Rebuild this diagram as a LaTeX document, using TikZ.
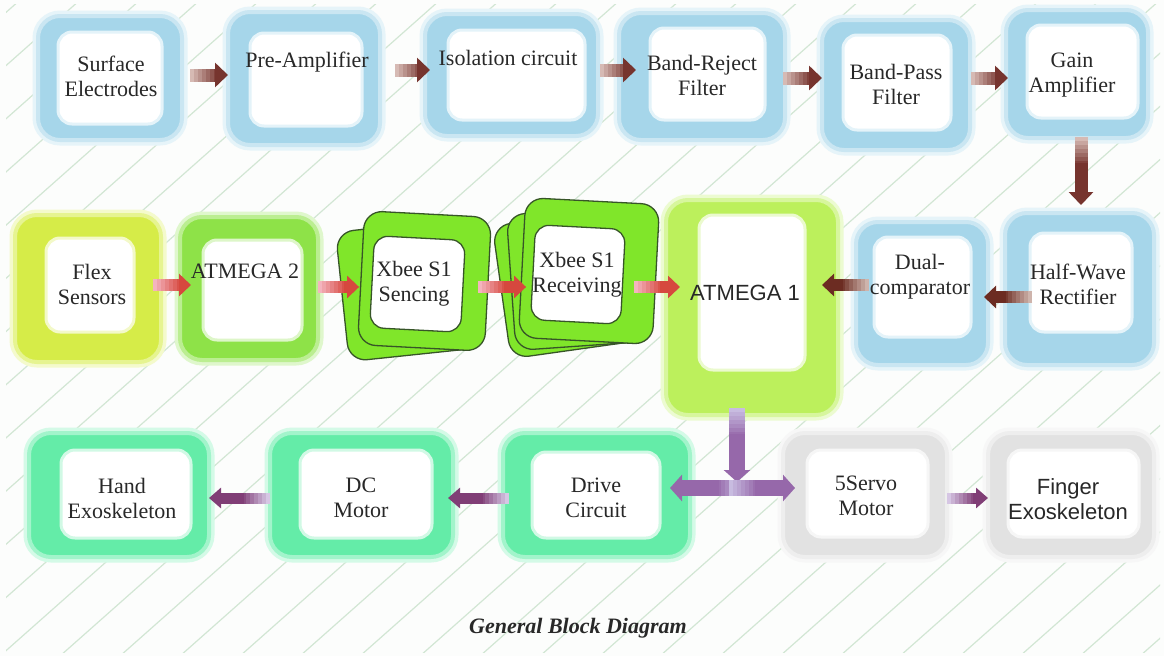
\documentclass[tikz,border=0pt]{standalone}
\usepackage{fontspec}
\setmainfont{Liberation Serif}
\newfontfamily\sansf{Liberation Sans}
\usetikzlibrary{arrows.meta,calc}
\definecolor{bgc}{RGB}{252,253,252}
\definecolor{hatchc}{RGB}{210,230,212}
\definecolor{cblue}{RGB}{166,214,234}
\definecolor{cflex}{RGB}{214,236,72}
\definecolor{catmb}{RGB}{142,226,72}
\definecolor{cxbee}{RGB}{128,230,42}
\definecolor{cxdark}{RGB}{55,85,40}
\definecolor{catma}{RGB}{188,240,92}
\definecolor{cteal}{RGB}{100,236,168}
\definecolor{cgray}{RGB}{226,226,226}
\definecolor{txtc}{RGB}{40,40,40}
\definecolor{BT}{RGB}{214,186,180}
\definecolor{BH}{RGB}{118,52,46}
\definecolor{RT}{RGB}{244,180,190}
\definecolor{RH}{RGB}{214,72,62}
\definecolor{PT}{RGB}{214,198,228}
\definecolor{PH}{RGB}{128,62,118}
\definecolor{TT}{RGB}{200,188,224}
\definecolor{TH}{RGB}{150,104,170}
\definecolor{DT}{RGB}{206,180,172}
\definecolor{DH}{RGB}{108,44,34}
\tikzset{
  obox/.style={fill=#1, rounded corners=22, inner sep=0, outer sep=0,
    draw=#1!60!white, line width=4,
    preaction={draw=#1!28!white, line width=11}},
  ibox/.style={fill=white, rounded corners=14, inner sep=0, outer sep=0,
    draw=#1!30!white, line width=3},
  xbox/.style={fill=cxbee, draw=cxdark, line width=1.3, rounded corners=18,
    inner sep=0, outer sep=0},
  xin/.style={fill=white, draw=cxdark, line width=1.3, rounded corners=14,
    inner sep=0, outer sep=0},
  txt/.style={font=\fontsize{22}{25}\selectfont, align=center, inner sep=0,
    text=txtc},
  stxt/.style={font=\sansf\fontsize{22}{25}\selectfont, align=center,
    inner sep=0, text=txtc},
  captxt/.style={font=\fontsize{22}{24}\selectfont\bfseries\itshape,
    inner sep=0, text=txtc},
  hatchl/.style={draw=hatchc, line width=1.2},
  Bline/.style={line width=13},
  Bhead/.style={draw=BH, line width=13, -{Triangle[length=13,width=24]}},
  Rline/.style={line width=12},
  Rhead/.style={draw=RH, line width=12, -{Triangle[length=12,width=22]}},
  Pline/.style={line width=11},
  Phead/.style={draw=PH, line width=11, -{Triangle[length=12,width=20]}},
  Tline/.style={line width=16},
  Thead/.style={draw=TH, line width=16, -{Triangle[length=12,width=26]}},
  Dline/.style={line width=12},
  Dhead/.style={draw=DH, line width=12, -{Triangle[length=12,width=22]}},
}
\newcommand\myobox[6]{\node[obox=#2, minimum width={#5-#3}, minimum height={#6-#4}] (#1) at ({(#3+#5)/2},{(#4+#6)/2}) {};}
\newcommand\myibox[6]{\node[ibox=#2, minimum width={#5-#3}, minimum height={#6-#4}] (#1) at ({(#3+#5)/2},{(#4+#6)/2}) {};}
\newcommand\conn[5]{%
  \foreach \k in {0,...,6}{%
    \pgfmathtruncatemacro\pp{\k*15}%
    \draw[#1line, draw=#1H!\pp!#1T, shorten <={#4+\k*4}, shorten >={#5+10}] #2 -- #3;}
  \draw[#1head, shorten <={#4+26}, shorten >=#5] #2 -- #3;}
\begin{document}
\begin{tikzpicture}[x=1pt,y=-1pt]
\useasboundingbox (0,0) rectangle (1164,656);
\fill[bgc] (0,0) rectangle (1164,656);
\begin{scope}
  \clip (6,4) rectangle (1160,652);
  \foreach \i in {-14,...,20} \draw[hatchl] (\i*60,656) -- ++(740,-656);
\end{scope}

% ---------- row 1 ----------
\myobox{se}{cblue}{38}{16}{182}{140}
\myibox{se-in}{cblue}{58}{32}{162}{124}
\myobox{pa}{cblue}{228}{12}{380}{145}
\myibox{pa-in}{cblue}{250}{33}{362}{126}
\myobox{ic}{cblue}{425}{14}{598}{136}
\myibox{ic-in}{cblue}{448}{30}{585}{120}
\myobox{br}{cblue}{619}{13}{785}{140}
\myibox{br-in}{cblue}{650}{28}{765}{120}
\myobox{bp}{cblue}{822}{20}{970}{150}
\myibox{bp-in}{cblue}{843}{35}{951}{130}
\myobox{ga}{cblue}{1006}{10}{1148}{138}
\myibox{ga-in}{cblue}{1027}{25}{1138}{118}

% ---------- row 2 ----------
\myobox{fs}{cflex}{15}{215}{161}{362}
\myibox{fs-in}{cflex}{46}{238}{134}{332}
\myobox{a2}{catmb}{180}{217}{318}{360}
\myibox{a2-in}{catmb}{203}{240}{302}{340}
\node[xbox, rotate=6, minimum width=132, minimum height=130] (xs-b) at (408,290) {};
\node[xbox, rotate=-3, minimum width=127, minimum height=134] (xs) at (424.5,281) {};
\node[xin, rotate=-3, minimum width=91, minimum height=92] (xs-in) at (417.5,284) {};
\node[xbox, rotate=8, minimum width=134, minimum height=134] (xr-b1) at (568,283) {};
\node[xbox, rotate=4, minimum width=134, minimum height=136] (xr-b2) at (578,278) {};
\node[xbox, rotate=-3, minimum width=134, minimum height=140] (xr) at (589,271) {};
\node[xin, rotate=-3, minimum width=90, minimum height=95] (xr-in) at (578,274.5) {};
\myobox{a1}{catma}{666}{200}{838}{415}
\myibox{a1-in}{catma}{699}{215}{805}{370}
\myobox{du}{cblue}{856}{222}{988}{365}
\myibox{du-in}{cblue}{874}{237}{971}{337}
\myobox{hw}{cblue}{1005}{213}{1154}{365}
\myibox{hw-in}{cblue}{1030}{233}{1132}{332}

% ---------- row 3 ----------
\myobox{he}{cteal}{29}{433}{209}{557}
\myibox{he-in}{cteal}{61}{450}{191}{538}
\myobox{dc}{cteal}{270}{433}{453}{557}
\myibox{dc-in}{cteal}{300}{450}{432}{538}
\myobox{dr}{cteal}{503}{433}{690}{557}
\myibox{dr-in}{cteal}{532}{452}{660}{538}
\myobox{sv}{cgray}{783}{433}{947}{557}
\myibox{sv-in}{cgray}{807}{450}{928}{537}
\myobox{fe}{cgray}{988}{433}{1154}{557}
\myibox{fe-in}{cgray}{1008}{450}{1139}{537}

% ---------- connectors ----------
\conn{B}{([yshift=3]se.center -| se.east)}{([yshift=3]se.center -| pa.west)}{8}{0}
\conn{B}{([yshift=8.5]pa.center -| pa.east)}{([yshift=8.5]pa.center -| ic.west)}{15}{-5}
\conn{B}{([yshift=5]ic.center -| ic.east)}{([yshift=5]ic.center -| br.west)}{2}{-17}
\conn{B}{([yshift=-1.5]br.center -| br.east)}{([yshift=-1.5]br.center -| bp.west)}{-2}{0}
\conn{B}{([yshift=7]bp.center -| bp.east)}{([yshift=7]bp.center -| ga.west)}{1}{-2}
\conn{B}{([xshift=4]ga.south)}{([xshift=4]ga.center |- hw.north)}{-1}{8}

\conn{R}{([yshift=3.5]fs.center -| fs.east)}{([yshift=3.5]fs.center -| a2.west)}{-8}{-11}
\conn{R}{([yshift=1.5]a2.center -| a2.east)}{([yshift=1.5]a2.center -| xs.west)}{0}{2}
\conn{R}{([yshift=-6]xs.center -| xs.east)}{([yshift=-6]xs.center -| xr.west)}{-10}{-4}
\conn{R}{([yshift=-16]xr.center -| xr.east)}{([yshift=-16]xr.center -| a1.west)}{-22}{-14}
\conn{D}{([yshift=8.5]du.center -| du.west)}{([yshift=8.5]du.center -| a1.east)}{-13}{-16}
\conn{D}{([yshift=-8]hw.center -| hw.west)}{([yshift=-8]hw.center -| du.east)}{-27}{-4}

\coordinate (j) at ($(a1.south |- dr.center)+(-15,-7)$);
\conn{T}{([xshift=-15]a1.south)}{(j)}{-7}{6}
\conn{T}{(j)}{(j -| dr.east)}{-8}{-20}
\conn{T}{(j)}{(j -| sv.west)}{-8}{-12}
\conn{P}{([yshift=-3]dc.center -| dc.west)}{([yshift=-3]dc.center -| he.east)}{0}{0}
\conn{P}{([yshift=-3]dr.center -| dr.west)}{([yshift=-3]dr.center -| dc.east)}{-6}{-5}
\conn{P}{([yshift=-3]sv.center -| sv.east)}{([yshift=-3]sv.center -| fe.west)}{0}{0}

% ---------- texts ----------
\node[txt] (se-t) at (111,76) {Surface\\Electrodes};
\node[txt] (pa-t) at (307,62) {Pre-Amplifier};
\node[txt] (ic-t) at (508,58) {Isolation circuit};
\node[txt] (br-t) at (702,75) {Band-Reject\\Filter};
\node[txt] (bp-t) at (896,84) {Band-Pass\\Filter};
\node[txt] (ga-t) at (1072,75) {Gain\\Amplifier};
\node[txt] (fs-t) at (92,284) {Flex\\Sensors};
\node[txt] (a2-t) at (245,271) {ATMEGA 2};
\node[txt] (xs-t) at (414,284) {Xbee S1\\Sencing};
\node[txt] (xr-t) at (577,275) {Xbee S1\\Receiving};
\node[stxt] (a1-t) at (745,293) {ATMEGA 1};
\node[txt] (du-t) at (920,277) {Dual-\\comparator};
\node[txt] (hw-t) at (1078,284) {Half-Wave\\Rectifier};
\node[txt] (he-t) at (122,498) {Hand\\Exoskeleton};
\node[txt] (dc-t) at (361,498) {DC\\Motor};
\node[txt] (dr-t) at (596,498) {Drive\\Circuit};
\node[txt] (sv-t) at (866,496) {5Servo\\Motor};
\node[stxt] (fe-t) at (1068,499) {Finger\\Exoskeleton};
\node[captxt] (cap) at (578,628) {General Block Diagram};
\end{tikzpicture}
\end{document}
